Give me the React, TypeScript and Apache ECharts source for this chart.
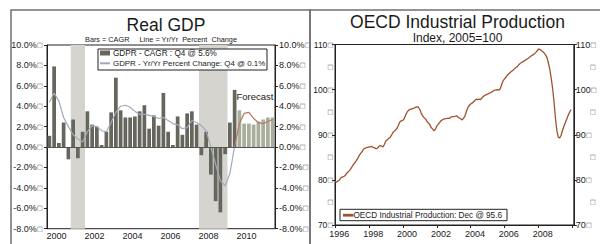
import React, { useEffect, useRef } from "react";
import * as echarts from "echarts";

// ---------- Real GDP (quarterly, 2000Q1 - 2011Q4) ----------
const gdpYears = ["2000", "2001", "2002", "2003", "2004", "2005", "2006", "2007", "2008", "2009", "2010", "2011"];
const quarters: string[] = [];
gdpYears.forEach((y) => ["Q1", "Q2", "Q3", "Q4"].forEach((q) => quarters.push(y + q)));

// CAGR bars, actual 2000Q1 - 2009Q4
const gdpCagr = [
  1.1, 7.9, 0.4, 2.4, -1.2, 2.7, -1.1, 1.5, 3.5, 2.2, 2.0, 0.2,
  1.5, 3.4, 6.8, 3.6, 2.9, 2.9, 3.0, 3.5, 4.1, 1.8, 3.1, 2.1,
  5.3, 1.5, 0.2, 3.0, 1.2, 3.3, 3.5, 2.2, -0.8, 1.5, -2.7, -5.3,
  -6.4, -0.7, 2.4, 5.6,
];
// CAGR bars, forecast 2010Q1 - 2011Q4
const gdpCagrForecast = [3.6, 2.3, 2.3, 2.2, 2.5, 2.7, 2.9, 2.9];
// Yr/Yr line, actual 2000Q1 - 2009Q4
const gdpYoy = [
  4.4, 5.3, 4.5, 2.9, 2.0, 1.2, 0.8, 0.5, 1.5, 2.1, 2.0, 1.6,
  1.5, 2.4, 3.4, 4.0, 4.1, 3.9, 3.5, 3.2, 3.2, 3.1, 3.0, 2.8,
  2.9, 2.6, 2.3, 2.2, 1.8, 1.9, 2.6, 2.4, 2.1, 1.6, 0.0, -1.7,
  -3.3, -3.8, -2.6, 0.1,
];
// Yr/Yr line, forecast 2009Q4 - 2011Q4
const gdpYoyForecast = [0.1, 2.3, 3.3, 3.4, 2.8, 2.4, 2.3, 2.5, 2.7];
const recessions = [
  ["2001Q2", "2001Q4"],
  ["2008Q1", "2009Q2"],
];
const forecastStart = "2010Q1";
const gdpAxis = { min: -8, max: 10, step: 2 };

// ---------- OECD Industrial Production (monthly, Jan 1996 - Dec 2009) ----------
const ipValues = [
  79.6, 79.5, 79.7, 79.9, 80.4, 80.6, 80.7, 80.9, 81.3, 81.7, 82.0, 82.4,
  82.9, 83.4, 83.8, 84.2, 84.7, 85.3, 85.8, 86.2, 86.7, 87.0, 87.1, 87.2,
  87.3, 87.3, 87.4, 87.2, 87.1, 86.9, 87.0, 87.4, 87.6, 87.5, 87.3, 87.9,
  88.6, 88.9, 89.2, 89.4, 89.9, 90.5, 90.8, 91.1, 91.5, 92.2, 92.9, 93.1,
  93.2, 93.6, 94.4, 95.0, 95.4, 95.6, 95.7, 95.8, 95.9, 96.1, 96.2, 96.1,
  95.6, 94.8, 94.2, 93.8, 93.5, 93.0, 92.6, 92.3, 91.6, 91.3, 90.9, 91.2,
  91.9, 92.3, 92.7, 93.1, 93.3, 93.5, 93.5, 93.6, 93.7, 93.6, 93.9, 94.0,
  94.0, 94.1, 94.2, 93.9, 93.7, 93.5, 93.3, 93.7, 94.2, 95.2, 96.0, 96.5,
  96.8, 97.0, 97.3, 97.6, 97.9, 97.8, 97.9, 97.8, 98.2, 98.5, 98.7, 98.9,
  99.0, 99.2, 99.3, 99.5, 99.7, 99.9, 99.9, 100.0, 99.9, 100.2, 101.2, 102.0,
  102.4, 102.8, 103.2, 103.5, 103.8, 104.1, 104.3, 104.6, 104.9, 105.1, 105.5, 105.8,
  106.0, 106.2, 106.4, 106.6, 106.8, 107.0, 107.3, 107.5, 107.7, 107.9, 108.2, 108.6,
  109.0, 108.9, 108.7, 108.4, 108.1, 107.7, 107.1, 105.9, 104.5, 102.5, 100.2, 97.2,
  93.6, 90.9, 89.4, 89.3, 89.9, 91.0, 91.9, 92.7, 93.5, 94.3, 95.0, 95.6,
];
const ipStartYear = 1996;
const ipAxisEnd = "2010-02";
const ipAxis = { min: 70, max: 110, step: 10, minorStep: 5 };
const monthNames = ["Jan", "Feb", "Mar", "Apr", "May", "Jun", "Jul", "Aug", "Sep", "Oct", "Nov", "Dec"];

const ipMonths: string[] = [];
for (let y = ipStartYear; ; y++) {
  let done = false;
  for (let m = 1; m <= 12; m++) {
    const s = `${y}-${m < 10 ? "0" + m : m}`;
    ipMonths.push(s);
    if (s === ipAxisEnd) { done = true; break; }
  }
  if (done) break;
}

const FONT = "'Liberation Sans', Arial, Helvetica, sans-serif";
const TXT = "#1a1a1a";
const AX = "#222";
const BAR_DARK = "#67665d";
const BAR_FC = "#a9af9a";
const LINE_YOY = "#9eacb9";
const LINE_FC = "#b57869";
const IP_COLOR = "#a0522d";
const SHADE = "#d6d4ce";

// small empty box glyph that follows the axis labels in the reference
const boxRich = {
  b: { fontSize: 6.5, color: "#6a6a6a", fontFamily: "'DejaVu Sans', sans-serif" },
  sp: { width: 14, fontSize: 9, fontFamily: FONT },
};
const BOX = "{b|□}";

export default function App() {
  const ref = useRef<HTMLDivElement>(null);

  useEffect(() => {
    if (!ref.current) return;
    const chart = echarts.init(ref.current, null, { renderer: "svg" });
    const fcIdx = quarters.indexOf(forecastStart);
    const lastCagr = gdpCagr[gdpCagr.length - 1];
    const lastYoy = gdpYoy[gdpYoy.length - 1];
    const lastIp = ipValues[ipValues.length - 1];
    const lastIpMonth = monthNames[(ipValues.length - 1) % 12];

    const yLabelStyle = { fontSize: 9, color: TXT, fontFamily: FONT, rich: boxRich };

    const option: any = {
      animation: false,
      backgroundColor: "#fff",
      grid: [
        { left: 47, top: 45, width: 228, height: 183.7, show: true, borderColor: AX, borderWidth: 1, backgroundColor: "#fff" },
        { left: 335, top: 44.5, width: 246, height: 180.5, show: true, borderColor: AX, borderWidth: 1, backgroundColor: "#fff" },
      ],
      xAxis: [
        { type: "value", gridIndex: 0, min: 0, max: quarters.length, show: false },
        {
          type: "category", gridIndex: 0, data: gdpYears, boundaryGap: true, position: "bottom",
          axisLine: { lineStyle: { color: AX, width: 1 } },
          axisTick: { inside: true, length: 4, interval: (i: number) => i % 2 === 1, lineStyle: { color: AX } },
          axisLabel: { interval: (i: number) => i % 2 === 0, fontSize: 9, color: TXT, fontFamily: FONT, margin: 3 },
          splitLine: { show: false },
        },
        {
          type: "category", gridIndex: 1, data: ipMonths, boundaryGap: false, position: "bottom",
          axisLine: { lineStyle: { color: AX, width: 1 } },
          axisTick: {
            length: 3,
            interval: (i: number, v: string) => v.endsWith("-01") && +v.slice(0, 4) % 2 === 0,
            lineStyle: { color: AX },
          },
          axisLabel: {
            interval: (i: number, v: string) => v.endsWith("-04") && +v.slice(0, 4) % 2 === 0,
            formatter: (v: string) => v.slice(0, 4),
            fontSize: 9, color: TXT, fontFamily: FONT, margin: 4,
          },
          splitLine: { show: false },
        },
      ],
      yAxis: [
        {
          type: "value", gridIndex: 0, position: "left", min: gdpAxis.min, max: gdpAxis.max, interval: gdpAxis.step,
          axisLine: { show: true, lineStyle: { color: AX } },
          axisTick: { show: true, length: 3, lineStyle: { color: AX } },
          splitLine: { show: false },
          axisLabel: { ...yLabelStyle, margin: 4, formatter: (v: number) => `${v.toFixed(1)}%${BOX}` },
        },
        {
          type: "value", gridIndex: 0, position: "right", min: gdpAxis.min, max: gdpAxis.max, interval: gdpAxis.step,
          axisLine: { show: true, lineStyle: { color: AX } },
          axisTick: { show: true, length: 3, lineStyle: { color: AX } },
          splitLine: { show: false },
          axisLabel: { ...yLabelStyle, margin: 4, formatter: (v: number) => `${v.toFixed(1)}%${BOX}` },
        },
        {
          type: "value", gridIndex: 1, position: "left", min: ipAxis.min, max: ipAxis.max, interval: ipAxis.step,
          axisLine: { show: true, lineStyle: { color: AX } },
          axisTick: { show: true, length: 3, lineStyle: { color: AX } },
          splitLine: { show: false },
          axisLabel: { fontSize: 8.5, color: TXT, fontFamily: FONT, rich: boxRich, margin: 1.5, formatter: (v: number) => `${v}${BOX}` },
        },
        {
          type: "value", gridIndex: 1, position: "left", min: ipAxis.min, max: ipAxis.max, interval: ipAxis.minorStep,
          axisLine: { show: false }, axisTick: { show: false }, splitLine: { show: false },
          axisLabel: { fontSize: 8.5, color: TXT, fontFamily: FONT, rich: boxRich, margin: 1.5, formatter: (v: number) => (v % 10 === 0 ? "" : BOX) },
        },
        {
          type: "value", gridIndex: 1, position: "right", min: ipAxis.min, max: ipAxis.max, interval: ipAxis.step,
          axisLine: { show: true, lineStyle: { color: AX } },
          axisTick: { show: true, length: 3, lineStyle: { color: AX } },
          splitLine: { show: false },
          axisLabel: { fontSize: 9, color: TXT, fontFamily: FONT, rich: boxRich, margin: 2, formatter: (v: number) => `${v}${BOX}` },
        },
        {
          type: "value", gridIndex: 1, position: "right", min: ipAxis.min, max: ipAxis.max, interval: ipAxis.minorStep,
          axisLine: { show: false }, axisTick: { show: false }, splitLine: { show: false },
          axisLabel: { fontSize: 9, color: TXT, fontFamily: FONT, rich: boxRich, margin: 2, formatter: (v: number) => (v % 10 === 0 ? "" : `{sp| }${BOX}`) },
        },
      ],
      series: [
        {
          name: "GDPR - CAGR",
          type: "bar", xAxisIndex: 0, yAxisIndex: 0, barWidth: 3.7, barGap: "-100%",
          itemStyle: { color: BAR_DARK },
          data: gdpCagr.map((v, i) => [i + 0.5, v]),
          markArea: {
            silent: true,
            itemStyle: { color: SHADE },
            data: recessions.map(([a, b]) => [
              { xAxis: quarters.indexOf(a) }, { xAxis: quarters.indexOf(b) + 1 },
            ]),
          },
          markLine: {
            silent: true, symbol: "none", label: { show: false },
            lineStyle: { color: "#555", width: 1, type: "solid" },
            data: [{ yAxis: 0 }],
          },
        },
        {
          name: "GDPR - CAGR Forecast",
          type: "bar", xAxisIndex: 0, yAxisIndex: 0, barWidth: 3.7, barGap: "-100%",
          itemStyle: { color: BAR_FC },
          data: gdpCagrForecast.map((v, i) => [fcIdx + i + 0.5, v]),
        },
        {
          name: "GDPR - Yr/Yr Percent Change",
          type: "line", xAxisIndex: 0, yAxisIndex: 0, showSymbol: false,
          lineStyle: { color: LINE_YOY, width: 1.2 },
          data: gdpYoy.map((v, i) => [i + 0.5, v]),
        },
        {
          name: "GDPR - Yr/Yr Forecast",
          type: "line", xAxisIndex: 0, yAxisIndex: 0, showSymbol: false,
          lineStyle: { color: LINE_FC, width: 1.2 },
          data: gdpYoyForecast.map((v, i) => [gdpYoy.length - 1 + i + 0.5, v]),
        },
        {
          name: "OECD Industrial Production",
          type: "line", xAxisIndex: 2, yAxisIndex: 2, showSymbol: false,
          lineStyle: { color: IP_COLOR, width: 1.3 },
          data: ipValues,
        },
      ],
      graphic: [
        { type: "rect", z: 100, shape: { x: 11, y: 10, width: 299, height: 240 }, style: { fill: "none", stroke: "#707070", lineWidth: 1.5 } },
        { type: "rect", z: 100, shape: { x: 310, y: 10, width: 300, height: 240 }, style: { fill: "none", stroke: "#707070", lineWidth: 1.5 } },
        { type: "text", z: 100, x: 166, y: 25, style: { text: "Real GDP", fill: TXT, font: `17.5px ${FONT}`, textAlign: "center", textVerticalAlign: "middle", align: "center", verticalAlign: "middle" } },
        { type: "text", z: 100, x: 161, y: 39.5, style: { text: "Bars = CAGR     Line = Yr/Yr  Percent  Change", fill: TXT, font: `7.3px ${FONT}`, textAlign: "center", textVerticalAlign: "middle", align: "center", verticalAlign: "middle" } },
        { type: "text", z: 100, x: 457.5, y: 22, style: { text: "OECD Industrial Production", fill: TXT, font: `17.5px ${FONT}`, textAlign: "center", textVerticalAlign: "middle", align: "center", verticalAlign: "middle" } },
        { type: "text", z: 100, x: 457.5, y: 37.5, style: { text: "Index, 2005=100", fill: TXT, font: `12px ${FONT}`, textAlign: "center", textVerticalAlign: "middle", align: "center", verticalAlign: "middle" } },
        // left legend
        { type: "rect", z: 100, shape: { x: 98, y: 49, width: 169, height: 21 }, style: { fill: "#fff", stroke: AX, lineWidth: 1 } },
        { type: "rect", z: 101, shape: { x: 100, y: 50.5, width: 10, height: 5 }, style: { fill: BAR_DARK } },
        { type: "text", z: 101, x: 113, y: 53.3, style: { text: `GDPR - CAGR : Q4 @ ${lastCagr.toFixed(1)}%`, fill: TXT, font: `8.2px ${FONT}`, textVerticalAlign: "middle", verticalAlign: "middle" } },
        { type: "line", z: 101, shape: { x1: 100, y1: 63.3, x2: 110, y2: 63.3 }, style: { stroke: LINE_YOY, lineWidth: 2 } },
        { type: "text", z: 101, x: 113, y: 63.3, style: { text: `GDPR - Yr/Yr Percent Change: Q4 @ ${lastYoy.toFixed(1)}%`, fill: TXT, font: `7.9px ${FONT}`, textVerticalAlign: "middle", verticalAlign: "middle" } },
        { type: "text", z: 101, x: 255, y: 96, style: { text: "Forecast", fill: TXT, font: `9.5px ${FONT}`, textAlign: "center", textVerticalAlign: "middle", align: "center", verticalAlign: "middle" } },
        // right legend
        { type: "rect", z: 100, shape: { x: 340, y: 209.3, width: 167, height: 11.4 }, style: { fill: "#fff", stroke: AX, lineWidth: 1 } },
        { type: "rect", z: 101, shape: { x: 343, y: 213.8, width: 10.5, height: 2.8 }, style: { fill: IP_COLOR } },
        { type: "text", z: 101, x: 353.5, y: 215, style: { text: `OECD Industrial Production: ${lastIpMonth} @ ${lastIp.toFixed(1)}`, fill: TXT, font: `8.2px ${FONT}`, textVerticalAlign: "middle", verticalAlign: "middle" } },
      ],
    };
    chart.setOption(option);
    return () => chart.dispose();
  }, []);

  return <div ref={ref} style={{ position: "fixed", left: 0, top: 0, width: 600, height: 244, background: "#fff" }} />;
}
